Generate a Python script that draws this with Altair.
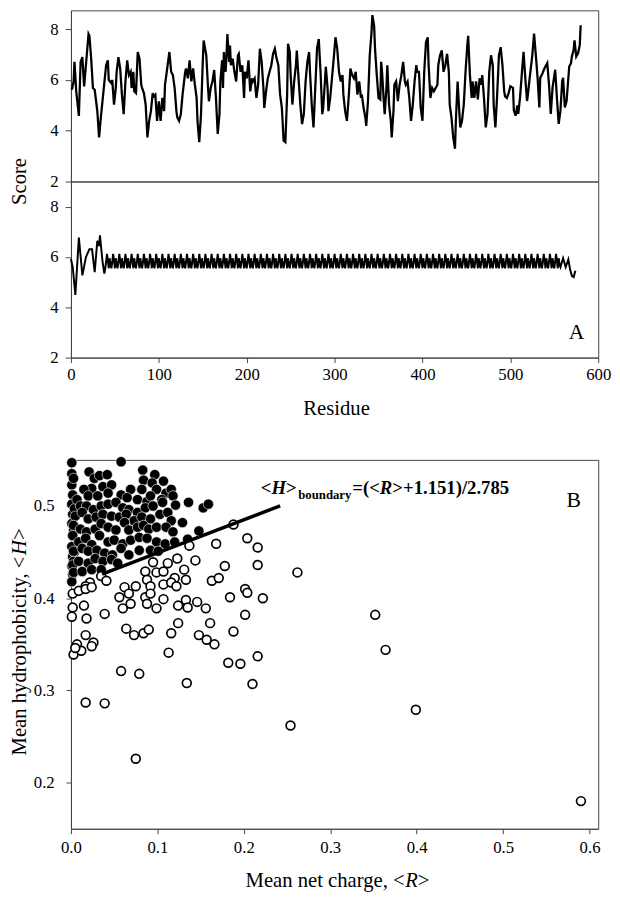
import altair as alt
import pandas as pd

# ---------------- Panel A (top trace) ----------------
top_residue = [
    1, 3, 4, 6, 9, 11, 13, 15, 20, 21,
    23, 25, 27, 30, 32, 34, 37, 40, 42, 43,
    46, 47, 49, 51, 52, 54, 56, 58, 60, 62,
    64, 66, 68, 69, 71, 72, 74, 76, 78, 80,
    81, 83, 85, 87, 89, 91, 93, 94, 96, 98,
    100, 102, 104, 106, 107, 109, 112, 114, 116, 118,
    120, 121, 123, 125, 127, 130, 131, 133, 135, 137,
    139, 141, 143, 144, 146, 148, 150, 151, 154, 156,
    157, 159, 161, 163, 165, 167, 169, 170, 172, 173,
    174, 176, 177, 178, 180, 181, 182, 184, 186, 188,
    190, 191, 193, 195, 197, 198, 200, 202, 204, 206,
    207, 209, 211, 213, 215, 217, 219, 220, 222, 224,
    226, 228, 230, 232, 234, 236, 238, 240, 242, 244,
    246, 247, 249, 250, 252, 254, 256, 257, 259, 261,
    263, 265, 267, 269, 271, 272, 274, 276, 278, 280,
    282, 284, 286, 287, 289, 290, 292, 293, 295, 297,
    299, 301, 303, 305, 307, 309, 310, 312, 314, 316,
    318, 320, 322, 324, 326, 328, 330, 331, 333, 335,
    336, 338, 340, 342, 343, 345, 346, 348, 350, 352,
    353, 354, 356, 357, 359, 360, 362, 364, 365, 367,
    368, 370, 372, 374, 376, 378, 380, 381, 383, 385,
    387, 389, 391, 393, 394, 396, 398, 400, 402, 404,
    406, 407, 409, 411, 413, 415, 417, 418, 420, 422,
    424, 426, 428, 430, 431, 433, 435, 437, 438, 440,
    441, 443, 445, 447, 449, 451, 452, 454, 456, 457,
    459, 461, 463, 465, 467, 468, 470, 472, 474, 476,
    478, 480, 481, 483, 485, 487, 489, 491, 493, 494,
    496, 498, 500, 503, 504, 506, 508, 509, 511, 513,
    515, 517, 519, 520, 522, 525, 527, 529, 531, 533,
    534, 536, 539, 542, 544, 546, 548, 551, 553, 555,
    557, 559, 560, 562, 564, 567, 569, 570, 572, 573,
    575, 577, 579, 580,
]
top_score = [
    5.61, 5.94, 6.71, 5.55, 4.58, 6.71, 6.90, 5.74, 7.81, 7.74,
    6.84, 5.68, 5.61, 4.77, 3.74, 4.52, 5.55, 6.58, 6.77, 6.00,
    5.87, 6.00, 5.03, 5.68, 6.32, 6.90, 6.45, 5.42, 4.65, 5.94,
    6.77, 6.19, 6.32, 5.68, 6.32, 5.55, 5.48, 7.10, 6.84, 5.81,
    5.68, 5.48, 5.03, 3.74, 4.39, 4.77, 5.48, 5.35, 5.42, 4.39,
    5.16, 4.39, 5.29, 4.77, 5.81, 6.32, 7.10, 6.32, 6.19, 5.68,
    4.77, 4.52, 4.39, 4.65, 5.42, 6.32, 6.45, 6.06, 6.77, 5.94,
    6.45, 5.81, 5.29, 4.39, 3.55, 4.65, 6.71, 7.55, 6.97, 5.68,
    5.16, 5.68, 5.94, 6.39, 5.29, 3.87, 4.65, 5.94, 6.77, 5.68,
    7.10, 6.32, 6.97, 7.81, 6.71, 7.35, 6.58, 6.84, 6.32, 5.94,
    6.97, 7.03, 6.32, 6.58, 5.29, 6.32, 6.06, 6.77, 5.55, 6.06,
    5.94, 6.06, 5.29, 5.81, 7.23, 6.71, 5.68, 4.90, 5.55, 6.06,
    6.32, 6.58, 7.03, 7.23, 6.84, 6.58, 5.42, 4.90, 3.61, 3.55,
    5.42, 7.42, 7.10, 6.19, 5.03, 5.94, 6.58, 7.16, 6.06, 5.03,
    4.26, 4.65, 5.94, 6.71, 7.10, 6.32, 5.03, 4.13, 5.68, 7.23,
    7.61, 6.32, 4.65, 4.90, 5.94, 6.52, 5.68, 4.77, 5.29, 6.06,
    6.84, 7.68, 7.23, 6.32, 5.94, 6.19, 5.42, 4.77, 4.39, 5.29,
    6.45, 6.19, 6.06, 6.32, 5.42, 5.94, 5.29, 5.42, 4.90, 4.52,
    4.19, 5.16, 6.97, 7.87, 8.55, 8.13, 7.23, 6.19, 5.29, 5.23,
    6.71, 6.32, 5.16, 4.65, 5.68, 6.58, 5.03, 4.39, 3.74, 4.77,
    5.81, 5.94, 5.16, 5.81, 6.19, 6.71, 5.94, 5.81, 5.94, 5.29,
    4.39, 5.03, 5.94, 6.58, 6.32, 6.32, 4.90, 4.39, 6.32, 7.48,
    7.68, 6.58, 5.29, 5.68, 5.55, 5.68, 5.81, 6.58, 6.97, 7.16,
    6.32, 6.58, 7.03, 6.32, 5.03, 4.52, 3.74, 3.29, 4.39, 5.94,
    5.29, 4.13, 4.39, 5.03, 6.32, 7.35, 7.74, 6.19, 5.29, 5.94,
    5.29, 5.94, 5.23, 6.06, 5.81, 6.19, 5.29, 4.13, 4.65, 6.32,
    6.97, 6.58, 5.03, 4.13, 5.42, 6.97, 7.29, 6.58, 5.55, 5.35,
    5.29, 5.48, 5.75, 5.69, 4.79, 4.59, 5.00, 4.66, 5.30, 6.21,
    7.11, 6.08, 5.17, 5.43, 6.08, 6.98, 7.82, 6.98, 6.08, 4.92,
    6.08, 6.21, 6.47, 6.66, 5.82, 4.66, 5.69, 6.40, 5.30, 4.27,
    4.79, 5.95, 6.08, 4.92, 5.17, 6.53, 6.66, 6.92, 7.18, 7.56,
    6.92, 7.05, 7.37, 8.15,
]

# ---------------- Panel A (bottom trace, heptad repeat) ----------------
bottom_head_residue = [0, 2, 5, 9, 13, 17, 21, 24, 27, 30, 32, 33, 36, 38]
bottom_head_score = [5.92, 5.60, 4.49, 6.77, 5.27, 5.99, 6.31, 6.31, 5.40, 6.64, 6.44, 6.86, 5.79, 5.34]
heptad_score = [5.55, 5.80, 6.12, 5.85, 5.55, 5.95, 5.70]
heptad_start = 39
heptad_count = 74
bottom_tail_residue = [557, 560, 563, 566, 568, 570, 572, 574]
bottom_tail_score = [5.60, 5.95, 5.60, 5.90, 5.50, 5.25, 5.20, 5.45]

# ---------------- Panel B ----------------
filled_R = [
    0.001, 0.001, 0.001, 0.002, 0.001, 0.002, 0.001, 0.002, 0.001, 0.002,
    0.001, 0.002, 0.003, 0.004, 0.003, 0.004, 0.003, 0.001, 0.058, 0.021,
    0.027, 0.033, 0.042, 0.024, 0.015, 0.020, 0.031, 0.037, 0.047, 0.043,
    0.083, 0.097, 0.084, 0.094, 0.107, 0.058, 0.069, 0.082, 0.099, 0.110,
    0.116, 0.065, 0.077, 0.088, 0.092, 0.105, 0.118, 0.007, 0.011, 0.018,
    0.026, 0.035, 0.043, 0.052, 0.060, 0.067, 0.077, 0.086, 0.095, 0.106,
    0.121, 0.136, 0.153, 0.159, 0.005, 0.013, 0.020, 0.029, 0.037, 0.047,
    0.056, 0.064, 0.073, 0.082, 0.092, 0.103, 0.112, 0.116, 0.129, 0.148,
    0.003, 0.011, 0.018, 0.028, 0.035, 0.043, 0.052, 0.062, 0.067, 0.077,
    0.084, 0.090, 0.099, 0.110, 0.118, 0.135, 0.002, 0.009, 0.017, 0.024,
    0.033, 0.043, 0.050, 0.060, 0.069, 0.079, 0.088, 0.099, 0.109, 0.120,
    0.003, 0.013, 0.020, 0.030, 0.039, 0.048, 0.058, 0.067, 0.079, 0.092,
    0.101, 0.002, 0.009, 0.020, 0.028, 0.037, 0.047, 0.054, 0.003, 0.013,
    0.024, 0.035,
]
filled_H = [
    0.547, 0.535, 0.523, 0.512, 0.502, 0.491, 0.481, 0.468, 0.456, 0.445,
    0.435, 0.426, 0.530, 0.497, 0.474, 0.450, 0.440, 0.418, 0.548, 0.537,
    0.530, 0.533, 0.534, 0.519, 0.518, 0.511, 0.511, 0.521, 0.523, 0.514,
    0.539, 0.534, 0.528, 0.525, 0.527, 0.512, 0.518, 0.518, 0.518, 0.514,
    0.518, 0.509, 0.507, 0.505, 0.511, 0.507, 0.511, 0.507, 0.500, 0.500,
    0.496, 0.500, 0.502, 0.504, 0.498, 0.496, 0.493, 0.498, 0.500, 0.504,
    0.501, 0.504, 0.498, 0.502, 0.489, 0.493, 0.486, 0.488, 0.491, 0.489,
    0.488, 0.491, 0.484, 0.488, 0.486, 0.491, 0.493, 0.484, 0.482, 0.473,
    0.479, 0.475, 0.472, 0.475, 0.481, 0.477, 0.474, 0.482, 0.474, 0.477,
    0.479, 0.475, 0.477, 0.477, 0.472, 0.464, 0.468, 0.461, 0.465, 0.458,
    0.468, 0.461, 0.463, 0.459, 0.463, 0.466, 0.465, 0.461, 0.459, 0.461,
    0.451, 0.454, 0.451, 0.452, 0.449, 0.447, 0.454, 0.447, 0.452, 0.452,
    0.451, 0.436, 0.440, 0.438, 0.443, 0.440, 0.442, 0.438, 0.428, 0.429,
    0.431, 0.431,
]
open_R = [
    0.188, 0.137, 0.168, 0.204, 0.095, 0.112, 0.123, 0.144, 0.131, 0.178,
    0.086, 0.099, 0.107, 0.120, 0.133, 0.163, 0.171, 0.035, 0.041, 0.022,
    0.017, 0.062, 0.075, 0.088, 0.092, 0.107, 0.116, 0.122, 0.002, 0.009,
    0.017, 0.024, 0.056, 0.067, 0.086, 0.092, 0.107, 0.133, 0.146, 0.184,
    0.2015, 0.204, 0.002, 0.015, 0.060, 0.069, 0.088, 0.099, 0.124, 0.135,
    0.156, 0.001, 0.018, 0.039, 0.2015, 0.064, 0.073, 0.084, 0.090, 0.116,
    0.124, 0.148, 0.161, 0.157, 0.166, 0.188, 0.017, 0.007, 0.026, 0.003,
    0.012, 0.113, 0.182, 0.196, 0.058, 0.079, 0.134, 0.210, 0.017, 0.039,
    0.216, 0.216, 0.222, 0.262, 0.352, 0.364, 0.399, 0.590, 0.254, 0.216,
    0.075, 0.005, 0.024,
]
open_H = [
    0.480, 0.457, 0.459, 0.465, 0.439, 0.438, 0.443, 0.441, 0.431, 0.435,
    0.429, 0.428, 0.429, 0.422, 0.420, 0.419, 0.422, 0.424, 0.419, 0.417,
    0.413, 0.412, 0.413, 0.420, 0.413, 0.415, 0.417, 0.413, 0.405, 0.408,
    0.410, 0.412, 0.401, 0.405, 0.401, 0.405, 0.399, 0.398, 0.396, 0.401,
    0.410, 0.406, 0.390, 0.392, 0.389, 0.394, 0.394, 0.389, 0.392, 0.390,
    0.389, 0.380, 0.378, 0.383, 0.382, 0.367, 0.360, 0.362, 0.366, 0.362,
    0.373, 0.360, 0.373, 0.355, 0.350, 0.364, 0.360, 0.350, 0.352, 0.339,
    0.343, 0.341, 0.330, 0.329, 0.321, 0.318, 0.308, 0.307, 0.287, 0.286,
    0.455, 0.436, 0.400, 0.428, 0.382, 0.344, 0.279, 0.180, 0.262, 0.337,
    0.226, 0.346, 0.348,
]
boundary_R = [0.036, 0.242]
boundary_intercept = 1.151
boundary_divisor = 2.785

FONT = "Liberation Serif"
W = 536
HA_TOP = 174
HA_BOT = 179
HB = 375

# ---------------- data frames ----------------
df_top = pd.DataFrame({"residue": top_residue, "score": top_score})

bot_res = list(bottom_head_residue)
bot_sc = list(bottom_head_score)
for k in range(heptad_count):
    for j, v in enumerate(heptad_score):
        bot_res.append(heptad_start + 7 * k + j)
        bot_sc.append(v)
bot_res += bottom_tail_residue
bot_sc += bottom_tail_score
df_bot = pd.DataFrame({"residue": bot_res, "score": bot_sc})

df_filled = pd.DataFrame({"R": filled_R, "H": filled_H})
df_open = pd.DataFrame({"R": open_R, "H": open_H})
df_bd = pd.DataFrame({"R": boundary_R,
                      "H": [(r + boundary_intercept) / boundary_divisor for r in boundary_R]})


def label(text, x, y, size=21, weight="normal", style="normal", angle=0,
          align="left", baseline="alphabetic"):
    kw = dict(font=FONT, fontSize=size, fontWeight=weight, fontStyle=style,
              align=align, baseline=baseline, color="black")
    if angle:
        kw["angle"] = angle
    return alt.Chart(pd.DataFrame({"t": [text]})).mark_text(**kw).encode(
        text="t:N", x=alt.value(x), y=alt.value(y))


def axis(**kw):
    base = dict(title=None, labelFont=FONT, labelFontSize=17, labelColor="black",
                domainColor="#444", tickColor="#444", grid=False)
    base.update(kw)
    return alt.Axis(**base)


xA = alt.Scale(domain=[0, 600], nice=False)
yaxisA = axis(values=[2, 4, 6, 8], tickSize=6, labelPadding=7, format="d")

top = alt.Chart(df_top).mark_line(color="black", strokeWidth=2.3).encode(
    x=alt.X("residue:Q", scale=xA, axis=None),
    y=alt.Y("score:Q", scale=alt.Scale(domain=[2, 8.74], nice=False, zero=False), axis=yaxisA),
).properties(width=W, height=HA_TOP)

bot_line = alt.Chart(df_bot).mark_line(color="black", strokeWidth=2).encode(
    x=alt.X("residue:Q", scale=xA,
            axis=axis(values=[0, 100, 200, 300, 400, 500, 600], format="d",
                      tickSize=5, labelPadding=4, labelFlush=False)),
    y=alt.Y("score:Q", scale=alt.Scale(domain=[2, 9], nice=False, zero=False), axis=yaxisA),
)
bottomA = alt.layer(
    bot_line,
    label("A", 514, 153, size=22, align="center", baseline="middle"),
    label("Score", -46, 0, angle=270, align="center"),
    label("Residue", 270, HA_BOT + 58, align="center"),
).properties(width=W, height=HA_BOT)

panelA = alt.vconcat(top, bottomA, spacing=0, bounds="flush").resolve_scale(
    x="independent", y="independent")

xB = alt.Scale(domain=[0, 0.61], nice=False)
yB = alt.Scale(domain=[0.15, 0.55], nice=False, zero=False)
xaxisB = axis(values=[0, 0.1, 0.2, 0.3, 0.4, 0.5, 0.6], format=".1f",
              tickSize=5, labelPadding=6, labelFlush=False)
yaxisB = axis(values=[0.2, 0.3, 0.4, 0.5], format=".1f", tickSize=5, labelPadding=12)

filled = alt.Chart(df_filled).mark_circle(size=110, color="black", stroke="white",
                                          strokeWidth=0.6, opacity=1).encode(
    x=alt.X("R:Q", scale=xB, axis=xaxisB),
    y=alt.Y("H:Q", scale=yB, axis=yaxisB),
)
opened = alt.Chart(df_open).mark_circle(size=80, fill="white", stroke="black",
                                        strokeWidth=1.7, opacity=1).encode(
    x=alt.X("R:Q", scale=xB), y=alt.Y("H:Q", scale=yB))
bline = alt.Chart(df_bd).mark_line(color="black", strokeWidth=3.5).encode(
    x=alt.X("R:Q", scale=xB), y=alt.Y("H:Q", scale=yB))

panelB = alt.layer(
    filled, opened, bline,
    label("<", 193, 35, size=19, weight="bold"),
    label("H", 203.8, 35, size=19, weight="bold", style="italic"),
    label(">", 218.6, 35, size=19, weight="bold"),
    label("boundary", 231, 40, size=13, weight="bold"),
    label("=(<", 286, 35, size=19, weight="bold"),
    label("R", 314, 35, size=19, weight="bold", style="italic"),
    label(">+1.151)/2.785", 326.7, 35, size=19, weight="bold"),
    label("B", 511, 41, size=22, align="center", baseline="middle"),
    label("Mean net charge, <", 177.5, HB + 59),
    label("R", 339.8, HB + 59, style="italic"),
    label(">", 352.6, HB + 59),
    label("Mean hydrophobicity, <", -46, 300.4, angle=270),
    label("H", -46, 96.7, angle=270, style="italic"),
    label(">", -46, 81.5, angle=270),
).properties(width=W, height=HB)

chart = alt.vconcat(panelA, panelB, spacing=35).resolve_scale(
    x="independent", y="independent"
).properties(
    padding={"left": 0, "top": -6, "right": 0, "bottom": 0}
).configure(font=FONT).configure_view(
    stroke="#444", strokeWidth=1
).configure_axis(
    grid=False, labelFont=FONT, labelColor="black", domainColor="#444",
    tickColor="#444"
)

chart.save("out.html", embed_options={"renderer": "svg", "actions": False})
